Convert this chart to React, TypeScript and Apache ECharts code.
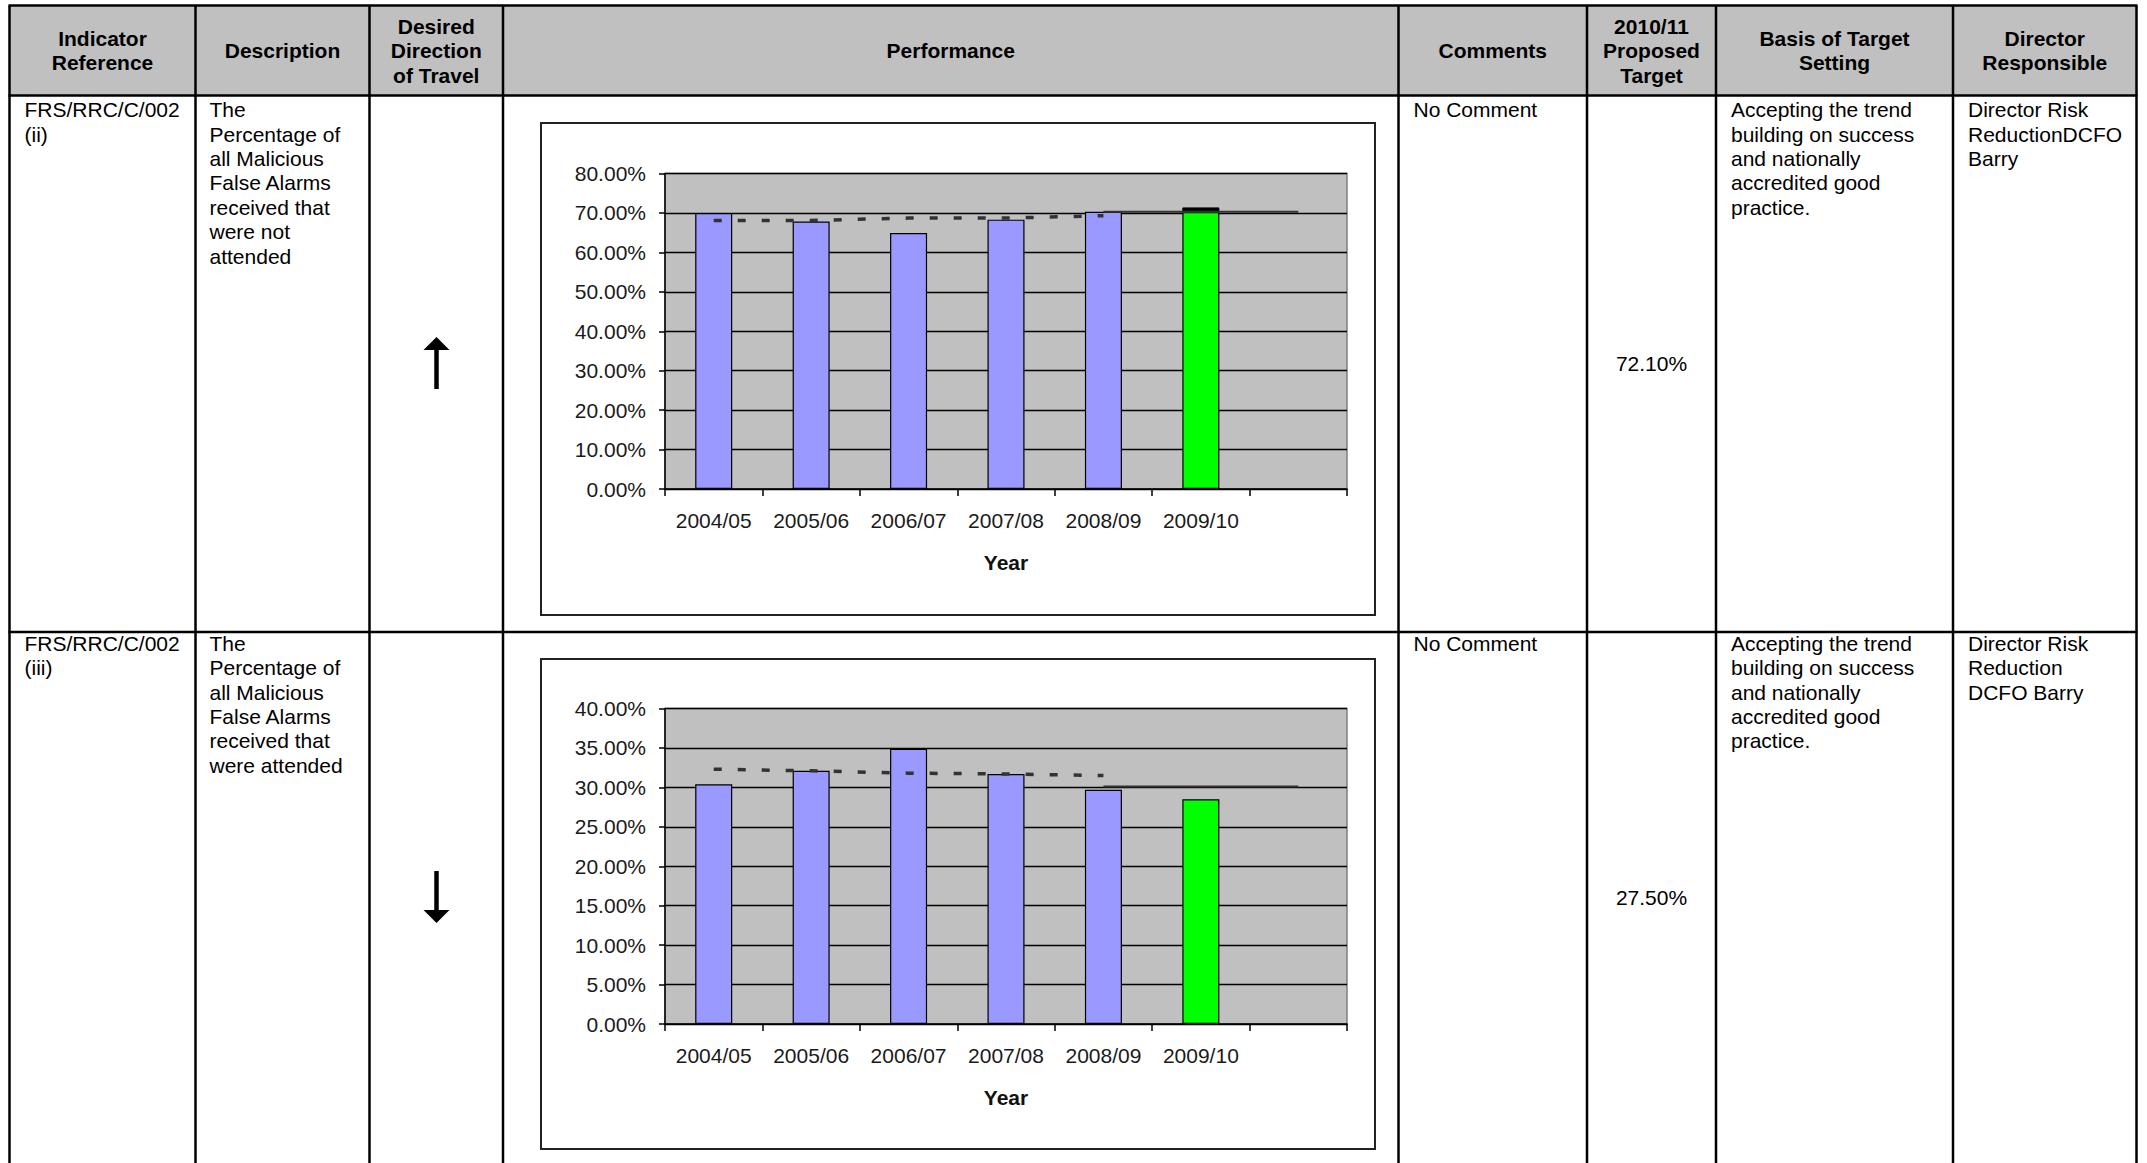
import React, { useEffect, useRef } from "react";
import * as echarts from "echarts";

// ---------- data ----------
const categories = ["2004/05", "2005/06", "2006/07", "2007/08", "2008/09", "2009/10", ""];

const notAttendedBars = [70.0, 67.8, 64.9, 68.3, 70.3, 70.2];
const notAttendedCap = [null, null, null, null, null, 1.2];
const notAttendedDotted = [68.1, 68.1, 68.7, 68.7, 69.3, null, null];
const notAttendedSolid = [null, null, null, null, 70.3, 70.3, 70.3];

const attendedBars = [30.4, 32.1, 34.9, 31.7, 29.7, 28.5];
const attendedCap = [null, null, null, null, null, null];
const attendedDotted = [32.3, 32.1, 31.8, 31.7, 31.5, null, null];
const attendedSolid = [null, null, null, null, 30.1, 30.1, 30.1];

const yMax1 = 80;
const yInterval1 = 10;
const yMax2 = 40;
const yInterval2 = 5;

const headers = [
  "Indicator\nReference",
  "Description",
  "Desired\nDirection\nof Travel",
  "Performance",
  "Comments",
  "2010/11\nProposed\nTarget",
  "Basis of Target\nSetting",
  "Director\nResponsible",
];

const row1Texts = {
  ref: "FRS/RRC/C/002\n(ii)",
  desc: "The\nPercentage of\nall Malicious\nFalse Alarms\nreceived that\nwere not\nattended",
  comment: "No Comment",
  target: "72.10%",
  basis: "Accepting the trend\nbuilding on success\nand nationally\naccredited good\npractice.",
  director: "Director Risk\nReductionDCFO\nBarry",
};
const row2Texts = {
  ref: "FRS/RRC/C/002\n(iii)",
  desc: "The\nPercentage of\nall Malicious\nFalse Alarms\nreceived that\nwere attended",
  comment: "No Comment",
  target: "27.50%",
  basis: "Accepting the trend\nbuilding on success\nand nationally\naccredited good\npractice.",
  director: "Director Risk\nReduction\nDCFO Barry",
};

// ---------- layout ----------
const W = 2147;
const H = 1163;
const colX = [9.5, 195.5, 369.5, 503, 1398.5, 1587, 1716, 1953, 2136.5];
const yTop = 5.5;
const yHead = 95.5;
const yRow = 632;
const FONT = '"Liberation Sans", Arial, Helvetica, sans-serif';

const BAR_BLUE = "#9999ff";
const BAR_GREEN = "#00ff00";

function buildGraphic() {
  const els: any[] = [];
  els.push({
    type: "rect",
    shape: { x: colX[0], y: yTop, width: colX[8] - colX[0], height: yHead - yTop },
    style: { fill: "#c0c0c0" },
    silent: true,
  });
  const lineStyle = { stroke: "#000", lineWidth: 2.5 };
  [yTop, yHead, yRow].forEach((y) =>
    els.push({ type: "line", shape: { x1: colX[0] - 1, y1: y, x2: colX[8] + 1, y2: y }, style: lineStyle, silent: true })
  );
  colX.forEach((x) =>
    els.push({ type: "line", shape: { x1: x, y1: yTop, x2: x, y2: H + 5 }, style: lineStyle, silent: true })
  );
  // header texts
  headers.forEach((t, i) => {
    els.push({
      type: "text",
      silent: true,
      style: {
        text: t,
        x: (colX[i] + colX[i + 1]) / 2,
        y: (yTop + yHead) / 2,
        align: "center",
        verticalAlign: "middle",
        fill: "#000",
        font: `bold 21px ${FONT}`,
        lineHeight: 24.5,
      },
    });
  });
  // body texts
  const bodyText = (t: string, x: number, y: number) =>
    els.push({
      type: "text",
      silent: true,
      style: {
        text: t,
        x,
        y,
        align: "left",
        verticalAlign: "top",
        fill: "#000",
        font: `21px ${FONT}`,
        lineHeight: 24.4,
      },
    });
  const rows = [
    { t: row1Texts, top: yHead + 2, mid: (yHead + yRow) / 2 },
    { t: row2Texts, top: yRow - 1, mid: 897 },
  ];
  rows.forEach((r) => {
    bodyText(r.t.ref, colX[0] + 15, r.top);
    bodyText(r.t.desc, colX[1] + 14, r.top);
    bodyText(r.t.comment, colX[4] + 15, r.top);
    bodyText(r.t.basis, colX[6] + 15, r.top);
    bodyText(r.t.director, colX[7] + 15, r.top);
    els.push({
      type: "text",
      silent: true,
      style: {
        text: r.t.target,
        x: (colX[5] + colX[6]) / 2,
        y: r.mid,
        align: "center",
        verticalAlign: "middle",
        fill: "#000",
        font: `21px ${FONT}`,
      },
    });
  });
  // arrows
  const ax = 436.5;
  els.push({ type: "line", shape: { x1: ax, y1: 389, x2: ax, y2: 348 }, style: { stroke: "#000", lineWidth: 4.5 }, silent: true });
  els.push({ type: "polygon", shape: { points: [[ax - 13, 350], [ax + 13, 350], [ax, 337]] }, style: { fill: "#000" }, silent: true });
  els.push({ type: "line", shape: { x1: ax, y1: 871, x2: ax, y2: 912 }, style: { stroke: "#000", lineWidth: 4.5 }, silent: true });
  els.push({ type: "polygon", shape: { points: [[ax - 13, 910], [ax + 13, 910], [ax, 923]] }, style: { fill: "#000" }, silent: true });
  // chart boxes
  [[123, 615], [659, 1149]].forEach(([t, b]) =>
    els.push({
      type: "rect",
      z: -10,
      shape: { x: 541, y: t, width: 1375 - 541, height: b - t },
      style: { fill: "transparent", stroke: "#222", lineWidth: 2 },
      silent: true,
    })
  );
  return els;
}

function axisPair(gridIndex: number, max: number, interval: number) {
  const x = {
    type: "category",
    gridIndex,
    data: categories,
    boundaryGap: true,
    name: "Year",
    nameLocation: "middle",
    nameGap: 63,
    nameTextStyle: { fontFamily: FONT, fontSize: 21, fontWeight: "bold", color: "#111" },
    axisLine: { show: true, lineStyle: { color: "#000", width: 1.5 } },
    axisTick: { show: true, alignWithLabel: false, interval: 0, length: 7, lineStyle: { color: "#000", width: 1.5 } },
    axisLabel: { interval: 0, margin: 21, fontFamily: FONT, fontSize: 21, color: "#1a1a1a" },
    splitLine: { show: false },
  };
  const y = {
    type: "value",
    gridIndex,
    min: 0,
    max,
    interval,
    axisLine: { show: true, lineStyle: { color: "#000", width: 1.5 } },
    axisTick: { show: true, inside: false, length: 6, lineStyle: { color: "#000", width: 1.5 } },
    axisLabel: {
      margin: 19,
      fontFamily: FONT,
      fontSize: 21,
      color: "#1a1a1a",
      formatter: (v: number) => v.toFixed(2) + "%",
    },
    splitLine: { show: true, lineStyle: { color: "#000", width: 1.3 } },
  };
  return { x, y };
}

function seriesFor(idx: number, bars: number[], cap: (number | null)[], dotted: (number | null)[], solid: (number | null)[]) {
  const barData: any[] = bars.map((v, i) => ({
    value: v,
    itemStyle: { color: i === bars.length - 1 ? BAR_GREEN : BAR_BLUE, borderColor: "#000", borderWidth: 1.2 },
  }));
  barData.push({ value: null, itemStyle: { color: BAR_BLUE, borderColor: "#000", borderWidth: 1.2 } });
  return [
    {
      type: "bar",
      xAxisIndex: idx,
      yAxisIndex: idx,
      stack: "s" + idx,
      barWidth: "38%",
      data: barData,
    },
    {
      type: "bar",
      xAxisIndex: idx,
      yAxisIndex: idx,
      stack: "s" + idx,
      barWidth: "38%",
      data: [...cap, null],
      itemStyle: { color: "#000", borderColor: "#000", borderWidth: 1 },
    },
    {
      type: "line",
      xAxisIndex: idx,
      yAxisIndex: idx,
      data: dotted,
      symbol: "none",
      connectNulls: false,
      lineStyle: { color: "#333", width: 3.5, type: [8, 16] },
    },
    {
      type: "line",
      xAxisIndex: idx,
      yAxisIndex: idx,
      data: solid,
      symbol: "none",
      connectNulls: false,
      lineStyle: { color: "#333", width: 2 },
    },
  ];
}

export default function App() {
  const ref = useRef<HTMLDivElement>(null);
  useEffect(() => {
    if (!ref.current) return;
    const chart = echarts.init(ref.current, null, { renderer: "svg", width: W, height: H });
    const a1 = axisPair(0, yMax1, yInterval1);
    const a2 = axisPair(1, yMax2, yInterval2);
    chart.setOption({
      animation: false,
      backgroundColor: "#ffffff",
      textStyle: { fontFamily: FONT },
      grid: [
        { left: 665, top: 173.5, width: 682, height: 315.5, show: true, backgroundColor: "#c0c0c0", borderColor: "#808080", borderWidth: 1.5, containLabel: false },
        { left: 665, top: 708.5, width: 682, height: 315.5, show: true, backgroundColor: "#c0c0c0", borderColor: "#808080", borderWidth: 1.5, containLabel: false },
      ],
      xAxis: [a1.x, a2.x],
      yAxis: [a1.y, a2.y],
      series: [
        ...seriesFor(0, notAttendedBars, notAttendedCap, notAttendedDotted, notAttendedSolid),
        ...seriesFor(1, attendedBars, attendedCap, attendedDotted, attendedSolid),
      ],
      graphic: buildGraphic(),
    });
    return () => chart.dispose();
  }, []);
  return (
    <div
      ref={ref}
      style={{ position: "absolute", left: 0, top: 0, width: W, height: H, background: "#fff" }}
    />
  );
}
